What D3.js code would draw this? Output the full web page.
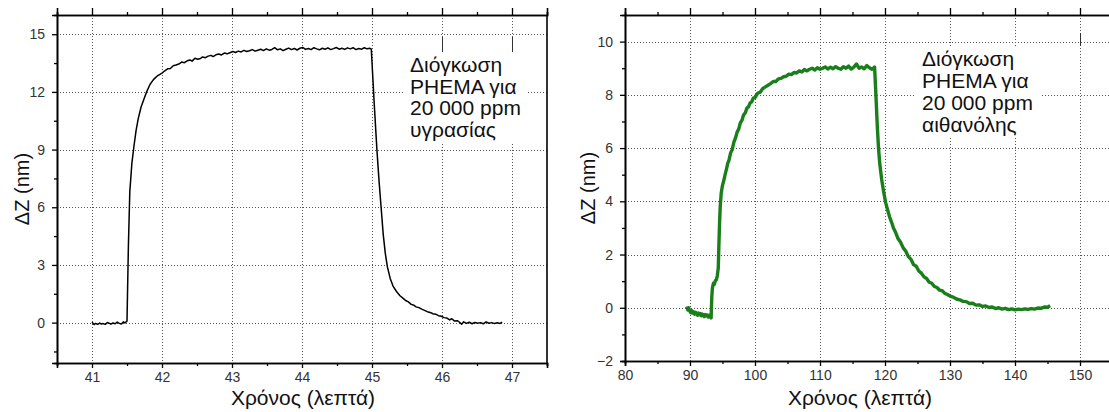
<!DOCTYPE html>
<html>
<head>
<meta charset="utf-8">
<script src="https://cdn.jsdelivr.net/npm/d3@7"></script>
<style>
  html, body { margin: 0; padding: 0; background: #fff; }
  svg { display: block; font-family: Arial, "Liberation Sans", sans-serif; }
</style>
</head>
<body>
<svg id="chart" width="1109" height="412"></svg>
<script>
// ---------- DATA ----------
// Panel A: swelling for 20 000 ppm humidity (time in min, ΔZ in nm)
const humidityData = [
  [41.00,0.02],[41.03,-0.10],[41.05,-0.04],[41.08,-0.09],[41.11,-0.02],[41.13,-0.07],[41.16,-0.05],
  [41.19,-0.09],[41.22,0.01],[41.25,-0.04],[41.27,-0.08],[41.30,-0.02],[41.33,-0.06],[41.36,0.03],
  [41.39,-0.04],[41.42,-0.07],[41.45,0.04],[41.47,-0.02],[41.50,0.08],
  [41.52,4.0],[41.54,6.8],[41.57,8.3],[41.60,9.2],[41.63,10.0],[41.66,10.6],[41.70,11.2],[41.74,11.6],
  [41.78,12.0],[41.83,12.4],[41.88,12.65],[41.94,12.85],[42.00,12.98],[42.04,13.1],[42.08,13.2],
  [42.12,13.22],[42.16,13.36],[42.20,13.4],[42.24,13.45],[42.28,13.55],[42.32,13.52],[42.36,13.62],
  [42.40,13.66],[42.43,13.6],[42.47,13.75],[42.51,13.7],[42.55,13.74],[42.58,13.82],[42.62,13.78],
  [42.66,13.86],[42.70,13.9],[42.73,13.84],[42.77,13.93],[42.81,13.97],[42.85,13.92],[42.89,14.02],
  [42.93,13.98],[42.97,14.04],[43.01,14.1],[43.05,14.05],[43.09,14.12],[43.13,14.08],[43.17,14.16],
  [43.21,14.1],[43.25,14.14],[43.29,14.2],[43.33,14.12],[43.37,14.17],[43.41,14.22],[43.45,14.15],
  [43.49,14.24],[43.53,14.17],[43.57,14.21],[43.61,14.3],[43.65,14.19],[43.69,14.24],[43.73,14.15],
  [43.77,14.22],[43.81,14.28],[43.85,14.2],[43.89,14.26],[43.93,14.18],[43.97,14.27],[44.01,14.31],
  [44.05,14.21],[44.09,14.26],[44.13,14.2],[44.17,14.3],[44.21,14.24],[44.25,14.19],[44.29,14.27],
  [44.33,14.22],[44.37,14.29],[44.41,14.2],[44.45,14.25],[44.49,14.31],[44.53,14.22],[44.57,14.27],
  [44.61,14.21],[44.65,14.29],[44.69,14.24],[44.73,14.3],[44.77,14.2],[44.81,14.26],[44.85,14.22],
  [44.89,14.3],[44.93,14.24],[44.97,14.27],[44.99,14.22],
  [45.03,11.5],[45.07,9.0],[45.10,7.4],[45.13,6.0],[45.16,4.6],[45.19,3.6],[45.22,2.9],[45.26,2.3],
  [45.30,1.9],[45.35,1.62],[45.40,1.4],[45.45,1.25],[45.48,1.15],[45.52,1.08],[45.56,0.95],[45.60,0.9],
  [45.63,0.82],[45.67,0.78],[45.71,0.7],[45.75,0.64],[45.79,0.57],[45.83,0.53],[45.87,0.46],[45.91,0.44],
  [45.95,0.36],[45.99,0.33],[46.03,0.26],[46.07,0.24],[46.11,0.14],[46.14,0.2],[46.18,0.08],[46.22,0.1],
  [46.25,0.02],[46.28,-0.08],[46.31,0.04],[46.35,-0.04],[46.39,0.02],[46.43,-0.06],[46.47,0.01],
  [46.51,-0.03],[46.55,0.0],[46.59,-0.06],[46.63,0.04],[46.67,-0.03],[46.71,0.0],[46.75,-0.05],
  [46.79,-0.01],[46.83,-0.04],[46.86,0.02]
];

// Panel B: swelling for 20 000 ppm ethanol
const ethanolData = [
  [89.5,0.05],[89.65,-0.08],[89.8,0.0],[89.95,-0.12],[90.1,-0.18],[90.25,-0.1],[90.4,-0.2],[90.55,-0.15],
  [90.7,-0.24],[90.85,-0.17],[91.0,-0.22],[91.15,-0.28],[91.3,-0.2],[91.45,-0.26],[91.6,-0.22],
  [91.75,-0.3],[91.9,-0.24],[92.05,-0.27],[92.2,-0.33],[92.35,-0.25],[92.5,-0.3],[92.65,-0.27],
  [92.8,-0.35],[92.95,-0.28],[93.1,-0.32],[93.25,-0.38],
  [93.35,0.4],[93.45,0.75],[93.6,0.92],[93.75,0.88],[93.9,1.02],[94.05,1.05],[94.2,1.2],[94.35,1.5],
  [94.45,2.4],[94.55,3.2],[94.65,3.8],[94.8,4.3],[95.0,4.6],[95.2,4.78],[95.4,5.0],[95.6,5.2],
  [95.8,5.42],[96.0,5.55],[96.25,5.82],[96.5,5.95],[96.75,6.22],[97.0,6.38],[97.25,6.6],[97.5,6.72],
  [97.75,6.95],[98.0,7.05],[98.25,7.25],[98.5,7.32],[98.75,7.5],[99.0,7.55],[99.25,7.7],[99.5,7.74],
  [99.75,7.88],[100.0,7.9],[100.4,8.06],[100.8,8.1],[101.2,8.24],[101.6,8.3],[102.0,8.36],[102.4,8.42],
  [102.8,8.5],[103.2,8.5],[103.6,8.6],[104.0,8.62],[104.4,8.68],[104.8,8.7],[105.2,8.78],[105.6,8.76],
  [106.0,8.84],[106.4,8.82],[106.8,8.9],[107.2,8.86],[107.6,8.95],[108.0,8.9],[108.4,8.96],[108.8,9.0],
  [109.2,8.93],[109.6,9.02],[110.0,8.96],[110.4,9.0],[110.8,9.05],[111.2,8.97],[111.6,9.04],[112.0,8.98],
  [112.4,9.06],[112.8,9.0],[113.2,8.96],[113.6,9.06],[114.0,9.0],[114.4,9.08],[114.8,8.97],[115.2,9.04],
  [115.6,9.16],[116.0,9.0],[116.4,9.05],[116.8,8.98],[117.2,9.1],[117.6,9.02],[118.0,8.96],[118.4,9.04],
  [118.6,8.0],[118.8,6.9],[119.0,6.0],[119.2,5.4],[119.5,4.8],[119.8,4.35],[120.1,3.95],[120.4,3.68],
  [120.7,3.42],[121.0,3.22],[121.3,3.0],[121.6,2.85],[122.0,2.6],[122.4,2.46],[122.8,2.25],[123.2,2.12],
  [123.6,1.92],[124.0,1.82],[124.4,1.62],[124.8,1.56],[125.2,1.38],[125.6,1.3],[126.0,1.16],[126.4,1.1],
  [126.8,0.96],[127.2,0.92],[127.6,0.8],[128.0,0.76],[128.4,0.66],[128.8,0.64],[129.2,0.54],[129.6,0.5],
  [130.0,0.44],[130.5,0.4],[131.0,0.33],[131.5,0.3],[132.0,0.24],[132.5,0.23],[133.0,0.16],[133.5,0.17],
  [134.0,0.1],[134.5,0.11],[135.0,0.05],[135.5,0.07],[136.0,0.01],[136.5,0.03],[137.0,-0.03],[137.5,0.0],
  [138.0,-0.05],[138.5,-0.02],[139.0,-0.07],[139.5,-0.04],[140.0,-0.08],[140.5,-0.05],[141.0,-0.07],
  [141.5,-0.04],[142.0,-0.06],[142.5,-0.03],[143.0,-0.05],[143.5,-0.01],[144.0,-0.02],[144.5,0.03],
  [145.0,0.02],[145.4,0.08]
];

// Ticks
const humXTicks = [41, 42, 43, 44, 45, 46, 47];
const humXMinor = [40.5, 41.5, 42.5, 43.5, 44.5, 45.5, 46.5, 47.5];
const humYTicks = [0, 3, 6, 9, 12, 15];
const humYMinor = [-1.5, 1.5, 4.5, 7.5, 10.5, 13.5];
const ethXTicks = [80, 90, 100, 110, 120, 130, 140, 150];
const ethXMinor = [85, 95, 105, 115, 125, 135, 145];
const ethYTicks = [-2, 0, 2, 4, 6, 8, 10];
const ethYMinor = [-1, 1, 3, 5, 7, 9];

// Texts
const xTitle = "Χρόνος (λεπτά)";
const yTitle = "ΔZ (nm)";
const humNote = ["Διόγκωση", "PHEMA για", "20 000 ppm", "υγρασίας"];
const ethNote = ["Διόγκωση", "PHEMA για", "20 000 ppm", "αιθανόλης"];

// ---------- DRAW ----------
const svg = d3.select("#chart");

function panel(cfg) {
  const g = svg.append("g");
  const x = d3.scaleLinear().domain(cfg.xDomain).range([cfg.left, cfg.right]);
  const y = d3.scaleLinear().domain(cfg.yDomain).range([cfg.bottom, cfg.top]);

  // grid
  g.append("g").selectAll("line").data(cfg.xTicks).join("line")
    .attr("x1", d => Math.round(x(d)) + 0.5).attr("x2", d => Math.round(x(d)) + 0.5)
    .attr("y1", cfg.top).attr("y2", cfg.bottom)
    .attr("stroke", "#555").attr("stroke-width", 1).attr("stroke-dasharray", "1,2");
  g.append("g").selectAll("line").data(cfg.yTicks).join("line")
    .attr("y1", d => Math.round(y(d)) + 0.5).attr("y2", d => Math.round(y(d)) + 0.5)
    .attr("x1", cfg.left).attr("x2", cfg.right)
    .attr("stroke", "#555").attr("stroke-width", 1).attr("stroke-dasharray", "1,2");

  // annotation box (white background hides grid)
  const n = cfg.note;
  g.append("rect")
    .attr("x", n.x - 6).attr("y", n.y - 20)
    .attr("width", n.w).attr("height", n.lh * cfg.noteText.length + 4)
    .attr("fill", "#fff");
  g.append("g").selectAll("line").data(cfg.solidMarks).join("line")
    .attr("x1", d => Math.round(x(d)) + 0.5).attr("x2", d => Math.round(x(d)) + 0.5)
    .attr("y1", n.y - 20 - n.mark).attr("y2", n.y - 20)
    .attr("stroke", "#333").attr("stroke-width", 1);
  const t = g.append("text").attr("x", n.x).attr("y", n.y)
    .attr("font-size", 21).attr("fill", "#111");
  cfg.noteText.forEach((s, i) => {
    t.append("tspan").attr("x", n.x).attr("y", n.y + i * n.lh).text(s);
  });

  // data line
  const line = d3.line().x(d => x(d[0])).y(d => y(d[1]));
  g.append("path").datum(cfg.data)
    .attr("d", line).attr("fill", "none")
    .attr("stroke", cfg.color).attr("stroke-width", cfg.lw)
    .attr("stroke-linejoin", "round");

  // axes
  const bottom = g.append("g").attr("transform", `translate(0,${cfg.bottom})`)
    .call(d3.axisBottom(x).tickValues(cfg.xTicks).tickSize(5).tickPadding(4).tickFormat(d3.format("d")));
  const bottomMinor = g.append("g").attr("transform", `translate(0,${cfg.bottom})`)
    .call(d3.axisBottom(x).tickValues(cfg.xMinor).tickSize(3).tickFormat(""));
  const top = g.append("g").attr("transform", `translate(0,${cfg.top})`)
    .call(d3.axisTop(x).tickValues(cfg.xTicks).tickSize(7).tickFormat(""));
  const topMinor = g.append("g").attr("transform", `translate(0,${cfg.top})`)
    .call(d3.axisTop(x).tickValues(cfg.xMinor).tickSize(3).tickFormat(""));
  const left = g.append("g").attr("transform", `translate(${cfg.left},0)`)
    .call(d3.axisLeft(y).tickValues(cfg.yTicks).tickSize(5).tickPadding(7).tickFormat(d3.format("d")));
  const leftMinor = g.append("g").attr("transform", `translate(${cfg.left},0)`)
    .call(d3.axisLeft(y).tickValues(cfg.yMinor).tickSize(3).tickFormat(""));
  [bottom, bottomMinor, top, topMinor, left, leftMinor].forEach(a => {
    a.select(".domain").attr("stroke", "#000").attr("stroke-width", 1.6);
    a.selectAll(".tick line").attr("stroke", "#000").attr("stroke-width", 1.3);
    a.selectAll("text").attr("font-size", 14).attr("fill", "#333")
      .attr("font-family", "Arial, 'Liberation Sans', sans-serif");
  });
  g.append("line").attr("x1", cfg.right).attr("x2", cfg.right)
    .attr("y1", cfg.top).attr("y2", cfg.bottom)
    .attr("stroke", "#000").attr("stroke-width", 1.6);

  // titles
  g.append("text").attr("x", cfg.xTitleX).attr("y", 405)
    .attr("text-anchor", "middle").attr("font-size", 21).attr("fill", "#111")
    .text(xTitle);
  g.append("text")
    .attr("transform", `translate(${cfg.yTitleX},${(cfg.top + cfg.bottom) / 2}) rotate(-90)`)
    .attr("text-anchor", "middle").attr("font-size", 20).attr("fill", "#111")
    .text(yTitle);
}

panel({
  data: humidityData, color: "#000", lw: 1.5,
  xDomain: [40.5, 47.5], yDomain: [-2.1, 16],
  left: 57, right: 547, top: 15, bottom: 363,
  xTicks: humXTicks, xMinor: humXMinor, yTicks: humYTicks, yMinor: humYMinor,
  note: { x: 410, y: 72, lh: 21.5, w: 124, mark: 15 }, noteText: humNote,
  solidMarks: [46, 47],
  xTitleX: 303, yTitleX: 29
});

panel({
  data: ethanolData, color: "#1a7f1a", lw: 3.4,
  xDomain: [80, 155], yDomain: [-2, 11],
  left: 625, right: 1112.5, top: 15, bottom: 361,
  xTicks: ethXTicks, xMinor: ethXMinor, yTicks: ethYTicks, yMinor: ethYMinor,
  note: { x: 922, y: 66, lh: 22, w: 124, mark: 13 }, noteText: ethNote,
  solidMarks: [150],
  xTitleX: 860, yTitleX: 595
});
</script>
</body>
</html>
